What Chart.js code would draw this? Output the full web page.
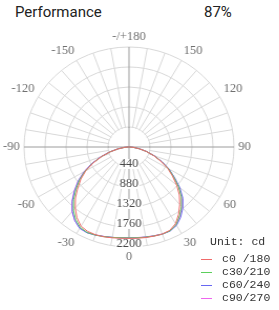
<!DOCTYPE html>
<html>
<head>
<meta charset="utf-8">
<script src="https://cdn.jsdelivr.net/npm/chart.js@4.4.1/dist/chart.umd.min.js"></script>
<style>
  html, body { margin: 0; padding: 0; background: #fff; }
  #wrap { position: relative; width: 279px; height: 310px; overflow: hidden; }
  /* the source dial is a little wider than tall */
  #chartBox { position: absolute; left: 0; top: 0; width: 279px; height: 310px; transform: scaleX(1.05); transform-origin: 129px 0; }
  .head { position: absolute; top: 5px; font-family: Roboto, "Liberation Sans", sans-serif; font-size: 15px; line-height: 15px; color: #222; }
  .leg { position: absolute; font-family: "Liberation Mono", monospace; font-size: 11.5px; line-height: 12px; color: #333; white-space: pre; }
  .legLine { position: absolute; height: 1px; width: 11px; left: 201px; }
</style>
</head>
<body>
<div id="wrap">
  <div class="head" style="left:15px">Performance</div>
  <div class="head" style="left:204px">87%</div>
  <div id="chartBox"><canvas id="polarChart"></canvas></div>
  <div id="legend"></div>
</div>
<script>
// gamma angles of the readings (0 = straight down)
const gammaAngles = [-90, -85, -80, -75, -70, -65, -60, -55, -50, -45, -40, -35, -30, -25, -20, -15, -10, -5,
                     0, 5, 10, 15, 20, 25, 30, 35, 40, 45, 50, 55, 60, 65, 70, 75, 80, 85, 90];

// intensity (cd) for each C-plane pair
const c0_180 = [20, 96, 225, 404, 604, 826, 1045, 1231, 1401, 1587, 1752, 1901, 2012, 2049, 2054, 2045, 2029, 2015,
                2010, 2015, 2023, 2030, 2038, 2022, 1949, 1810, 1654, 1492, 1304, 1108, 932, 728, 543, 369, 212, 92, 20];
const c30_210 = [20, 101, 230, 409, 613, 839, 1064, 1265, 1451, 1643, 1811, 1946, 2044, 2075, 2062, 2042, 2019, 2005,
                 2000, 2005, 2013, 2026, 2040, 2034, 1972, 1846, 1709, 1549, 1352, 1139, 955, 746, 555, 373, 212, 92, 20];
const c60_240 = [20, 101, 234, 413, 622, 852, 1081, 1292, 1484, 1681, 1850, 1978, 2067, 2083, 2063, 2037, 2019, 2005,
                 2000, 2005, 2013, 2026, 2041, 2041, 1992, 1887, 1754, 1596, 1390, 1161, 968, 755, 560, 378, 216, 92, 20];
const c90_270 = [20, 110, 248, 428, 632, 862, 1091, 1301, 1497, 1692, 1856, 1979, 2063, 2078, 2058, 2037, 2019, 2005,
                 1995, 2000, 2008, 2021, 2036, 2035, 1979, 1861, 1725, 1567, 1364, 1144, 961, 756, 565, 383, 221, 96, 20];

const seriesNames = ['c0 /180', 'c30/210', 'c60/240', 'c90/270'];
const seriesColors = ['#f06a6a', '#5ccf5c', '#6868f2', '#ee66ee'];

const angleMarks = [180, 150, 120, 90, 60, 30, 0, -30, -60, -90, -120, -150];
const intensityTicks = [440, 880, 1320, 1760, 2200];

// dial positions every 5 degrees, clockwise from the top (180 at top, 0 at bottom)
const dialAngles = [];
for (let i = 0; i < 72; i++) dialAngles.push(180 - i * 5);

function toDial(values) {
    return dialAngles.map(g => {
        const k = gammaAngles.indexOf(g);
        return k >= 0 ? values[k] : 0;
    });
}

const dialPlugin = {
    id: 'dial',
    beforeDatasetsDraw(chart) {
        const s = chart.scales.r;
        const ctx = chart.ctx;
        const cx = s.xCenter, cy = s.yCenter;
        const inner = s.getDistanceFromCenterForValue(intensityTicks[0]);
        ctx.save();
        // no spokes inside the first ring
        ctx.fillStyle = '#fff';
        ctx.beginPath();
        ctx.arc(cx, cy, inner - 0.7, 0, Math.PI * 2);
        ctx.fill();
        // main axes still cross the centre
        ctx.strokeStyle = '#9c9c9c';
        ctx.lineWidth = 1;
        ctx.beginPath();
        ctx.moveTo(cx - inner, cy); ctx.lineTo(cx + inner, cy);
        ctx.moveTo(cx, cy - inner); ctx.lineTo(cx, cy + inner);
        ctx.stroke();
        ctx.restore();
    },
    afterDatasetsDraw(chart) {
        const s = chart.scales.r;
        const ctx = chart.ctx;
        const cx = s.xCenter, cy = s.yCenter;
        ctx.save();

        // angle labels around the dial
        ctx.font = '12px "Liberation Serif", serif';
        ctx.fillStyle = '#707070';
        angleMarks.forEach(g => {
            const idx = dialAngles.indexOf(g);
            const p = s.getPointPosition(idx, s.drawingArea + 4);
            const dx = p.x - cx, dy = p.y - cy;
            ctx.textAlign = Math.abs(dx) < 1 ? 'center' : (dx > 0 ? 'left' : 'right');
            ctx.textBaseline = Math.abs(dy) < 1 ? 'middle' : (dy < 0 ? 'bottom' : 'top');
            ctx.fillText(g === 180 ? '-/+180' : String(g), p.x, p.y);
        });

        // intensity labels down the 0 axis
        ctx.textAlign = 'center';
        ctx.textBaseline = 'middle';
        ctx.fillStyle = '#484848';
        intensityTicks.forEach(v => {
            const y = cy + s.getDistanceFromCenterForValue(v) - 3;
            const w = ctx.measureText(String(v)).width;
            ctx.save();
            ctx.fillStyle = '#fff';
            ctx.fillRect(cx - w / 2 - 1, y - 5, w + 2, 10);
            ctx.restore();
            ctx.fillText(String(v), cx, y);
        });
        ctx.restore();
    }
};

const seriesData = [c0_180, c30_210, c60_240, c90_270];

const ctx = document.getElementById('polarChart').getContext('2d');
const chart = new Chart(ctx, {
    type: 'radar',
    data: {
        labels: dialAngles,
        datasets: seriesData.map((vals, i) => ({
            label: seriesNames[i],
            data: toDial(vals),
            borderColor: seriesColors[i],
            borderWidth: 1,
            pointRadius: 0,
            pointHoverRadius: 0,
            fill: false,
            tension: 0
        }))
    },
    options: {
        responsive: true,
        maintainAspectRatio: false,
        animation: false,
        devicePixelRatio: 1,
        layout: { padding: { left: 29, right: 50, top: 47, bottom: 63 } },
        plugins: { legend: { display: false }, tooltip: { enabled: false } },
        scales: {
            r: {
                min: 0,
                max: 2200,
                ticks: { display: false, stepSize: 440 },
                pointLabels: { display: false },
                grid: { circular: true, color: '#d8d8d8', lineWidth: 1 },
                angleLines: {
                    color: c => (c.index % 18 === 0 ? '#9c9c9c' : '#d8d8d8'),
                    lineWidth: c => (c.index % 2 === 0 ? 1 : 0)
                }
            }
        }
    },
    plugins: [dialPlugin]
});

// legend
const legend = document.getElementById('legend');
const unit = document.createElement('div');
unit.className = 'leg';
unit.style.left = '210px';
unit.style.top = '236px';
unit.textContent = 'Unit: cd';
legend.appendChild(unit);
seriesNames.forEach((name, i) => {
    const y = 259 + i * 13;
    const line = document.createElement('div');
    line.className = 'legLine';
    line.style.top = y + 'px';
    line.style.background = seriesColors[i];
    legend.appendChild(line);
    const txt = document.createElement('div');
    txt.className = 'leg';
    txt.style.left = '222px';
    txt.style.top = (y - 6) + 'px';
    txt.textContent = name;
    legend.appendChild(txt);
});
</script>
</body>
</html>
